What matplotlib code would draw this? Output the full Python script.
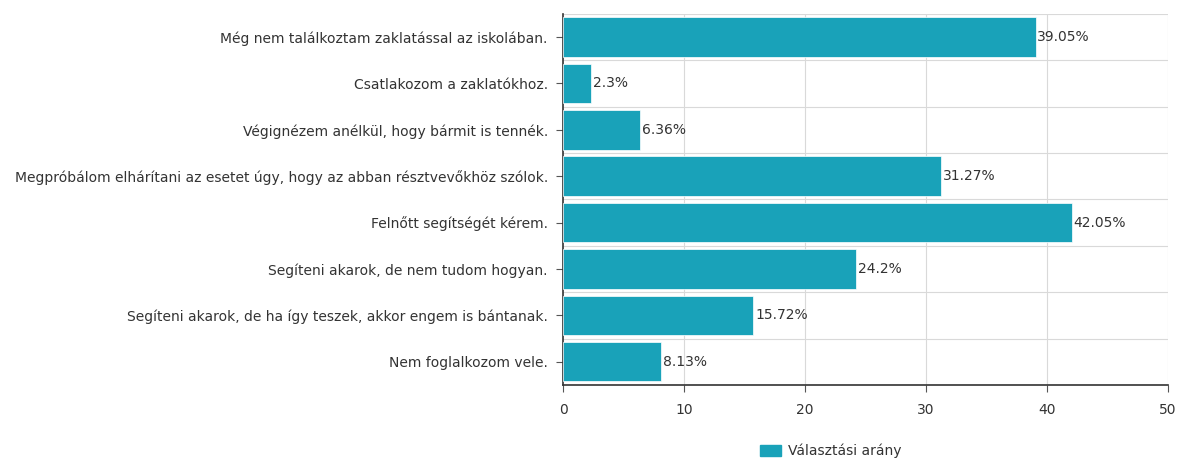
import matplotlib.pyplot as plt
from matplotlib.patches import Patch

# Data
categories = [
    "Még nem találkoztam zaklatással az iskolában.",
    "Csatlakozom a zaklatókhoz.",
    "Végignézem anélkül, hogy bármit is tennék.",
    "Megpróbálom elhárítani az esetet úgy, hogy az abban résztvevőkhöz szólok.",
    "Felnőtt segítségét kérem.",
    "Segíteni akarok, de nem tudom hogyan.",
    "Segíteni akarok, de ha így teszek, akkor engem is bántanak.",
    "Nem foglalkozom vele.",
]
values = [39.05, 2.3, 6.36, 31.27, 42.05, 24.2, 15.72, 8.13]
value_labels = ["39.05%", "2.3%", "6.36%", "31.27%", "42.05%", "24.2%", "15.72%", "8.13%"]
x_ticks = [0, 10, 20, 30, 40, 50]
series_name = "Választási arány"

BAR_COLOR = '#19a2b9'
TEXT_COLOR = '#333333'
GRID_COLOR = '#d9d9d9'
FS = 10

plt.rcParams['font.family'] = ['DejaVu Sans']

fig = plt.figure(figsize=(11.78, 4.61), dpi=100)
ax = fig.add_axes([0.478, 0.165, 0.9915 - 0.478, 0.970 - 0.165])

y_pos = list(range(len(categories)))
ax.barh(y_pos, values, height=0.85, color=BAR_COLOR, edgecolor='white', linewidth=0.5, zorder=3)

for y, v, lab in zip(y_pos, values, value_labels):
    ax.text(v + 0.15, y, lab, va='center', ha='left', fontsize=FS, color=TEXT_COLOR, zorder=4)

ax.set_ylim(len(categories) - 0.5, -0.5)
ax.set_xlim(0, 50)
ax.set_yticks(y_pos)
ax.set_yticklabels(categories, fontsize=FS, color=TEXT_COLOR)
ax.set_xticks(x_ticks)
ax.set_xticklabels([str(t) for t in x_ticks], fontsize=FS, color=TEXT_COLOR)

# grid: vertical at ticks, horizontal between categories
for t in x_ticks[1:]:
    ax.axvline(t, color=GRID_COLOR, linewidth=0.8, zorder=1)
for b in range(len(categories) + 1):
    ax.axhline(b - 0.5, color=GRID_COLOR, linewidth=0.8, zorder=1)

for s in ['top', 'right']:
    ax.spines[s].set_visible(False)
ax.spines['left'].set_color('#333333')
ax.spines['left'].set_linewidth(1.2)
ax.spines['bottom'].set_color('#333333')
ax.spines['bottom'].set_linewidth(1.2)
ax.tick_params(axis='y', length=5, color='#555555', pad=6)
ax.tick_params(axis='x', length=5, color='#555555', pad=8)

fig.legend(handles=[Patch(color=BAR_COLOR, label=series_name)], loc='center',
           bbox_to_anchor=(0.705, 0.022), frameon=False, fontsize=FS,
           handlelength=1.5, handleheight=0.9, handletextpad=0.5,
           labelcolor=TEXT_COLOR)

fig.savefig('out.png', dpi=100)
